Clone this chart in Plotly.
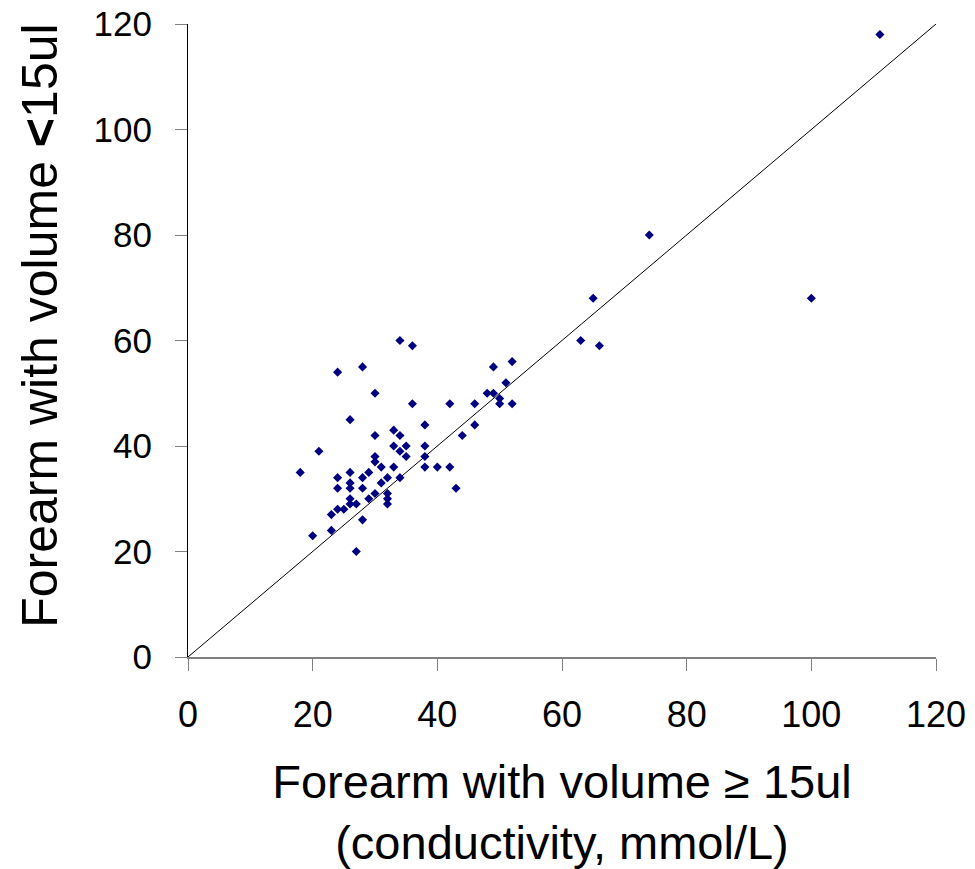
import plotly.graph_objects as go

# Data
x_vals = [34, 36, 24, 28, 30, 36, 26, 38, 30, 33, 34, 21, 33, 35, 34, 35, 38, 38, 38, 18,
          30, 30, 31, 33, 34, 26, 29, 24, 26, 28, 31, 32, 24, 26, 28, 30, 32, 29, 26, 32,
          26, 27, 32, 24, 25, 23, 28, 23, 20, 27,
          52, 49, 51, 48, 49, 50, 50, 52, 42, 46, 46, 44, 40, 42, 43,
          63, 65, 66, 74, 100, 111]
y_vals = [60, 59, 54, 55, 50, 48, 45, 44, 42, 43, 42, 39, 40, 40, 39, 38, 40, 38, 36, 35,
          38, 37, 36, 36, 34, 35, 35, 34, 33, 34, 33, 34, 32, 32, 32, 31, 31, 30, 30, 30,
          29, 29, 29, 28, 28, 27, 26, 24, 23, 20,
          56, 55, 52, 50, 50, 49, 48, 48, 48, 48, 44, 42, 36, 36, 32,
          60, 68, 59, 80, 68, 118]
identity_line = [0, 120]
tick_vals = [0, 20, 40, 60, 80, 100, 120]

FONT = "Liberation Sans, Arial, sans-serif"

fig = go.Figure()
fig.add_trace(go.Scatter(x=identity_line, y=identity_line, mode="lines",
                         line=dict(color="black", width=1), hoverinfo="skip",
                         showlegend=False))
fig.add_trace(go.Scatter(x=x_vals, y=y_vals, mode="markers",
                         marker=dict(symbol="diamond", size=7, color="#000080",
                                     line=dict(width=0)),
                         showlegend=False))

fig.update_layout(
    width=967, height=861,
    margin=dict(l=180, r=39, t=16, b=212),
    paper_bgcolor="white", plot_bgcolor="white",
    font=dict(family=FONT, color="black"),
    xaxis=dict(range=[0, 120], tickvals=tick_vals, showgrid=False, zeroline=False,
               automargin=False, ticklabeloverflow="allow",
               showline=True, linecolor="#808080", linewidth=2,
               ticks="outside", ticklen=12, tickcolor="#808080", tickwidth=1,
               tickfont=dict(size=36, family=FONT), ticklabelstandoff=13,
               title=dict(text="Forearm with volume ≥ 15ul<br>(conductivity, mmol/L)",
                          font=dict(size=47, family=FONT), standoff=38)),
    yaxis=dict(range=[0, 120], tickvals=tick_vals, showgrid=False, zeroline=False,
               automargin=False, ticklabeloverflow="allow",
               showline=True, linecolor="black", linewidth=1,
               ticks="outside", ticklen=12, tickcolor="#808080", tickwidth=1,
               tickfont=dict(size=35, family=FONT), ticklabelstandoff=16),
    annotations=[dict(text="Forearm with volume <b><</b>15ul", textangle=-90,
                      xref="paper", yref="paper", x=-0.198, y=0.523,
                      xanchor="center", yanchor="middle", showarrow=False,
                      font=dict(size=50, family=FONT, color="black"))],
)

fig.write_html("out.html")
